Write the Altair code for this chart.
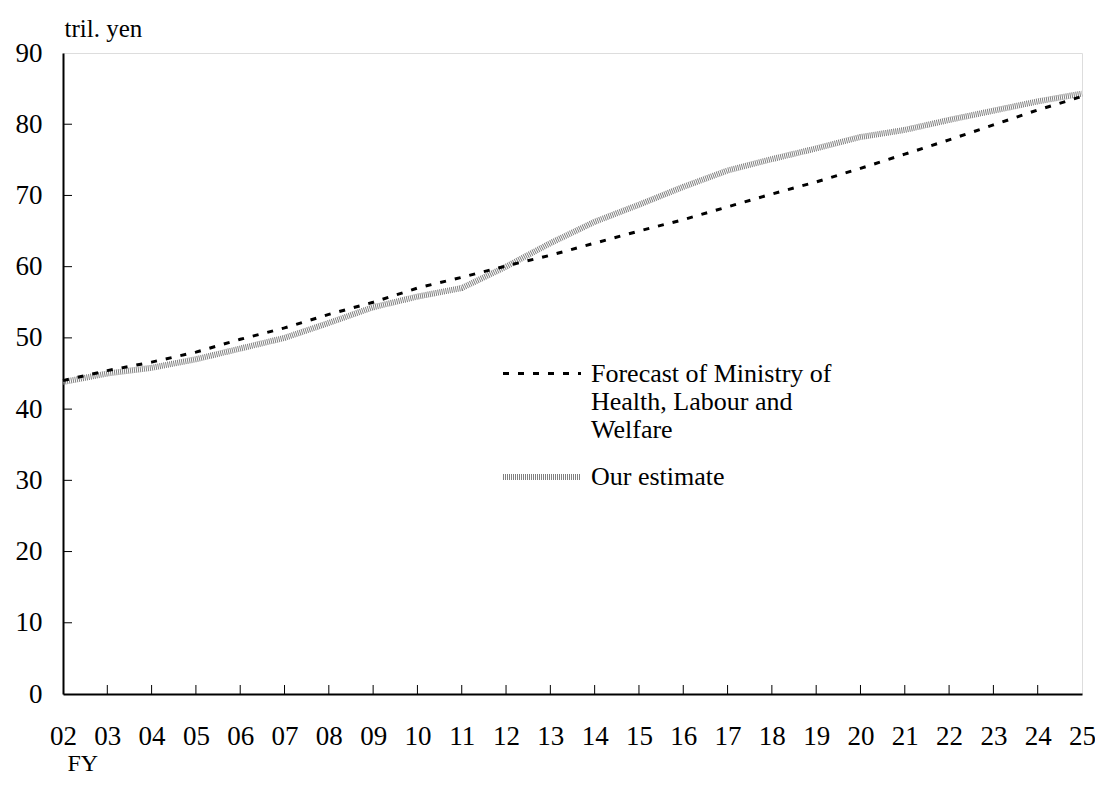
import altair as alt
import pandas as pd

# ---- data ----
fiscal_years = list(range(2, 26))  # FY 02 .. 25
forecast_mhlw = [44.0, 45.4, 46.6, 48.0, 49.8, 51.4, 53.3, 55.0, 57.0, 58.5, 60.1, 61.6,
                 63.3, 65.0, 66.6, 68.4, 70.2, 71.9, 73.8, 75.8, 77.8, 79.9, 82.0, 83.9]
our_estimate = [43.8, 45.0, 45.8, 47.0, 48.5, 50.0, 52.1, 54.3, 55.8, 57.0, 60.0, 63.3,
                66.3, 68.7, 71.2, 73.5, 75.1, 76.6, 78.2, 79.2, 80.6, 81.9, 83.2, 84.3]
series_names = ["Forecast of Ministry of|Health, Labour and|Welfare", "Our estimate"]
y_ticks = [0, 10, 20, 30, 40, 50, 60, 70, 80, 90]

FONT = "Liberation Serif"

rows = []
for fy, v in zip(fiscal_years, forecast_mhlw):
    rows.append({"FY": fy, "value": v, "series": series_names[0]})
for fy, v in zip(fiscal_years, our_estimate):
    rows.append({"FY": fy, "value": v, "series": series_names[1]})
df = pd.DataFrame(rows)

xtick_df = pd.DataFrame({"FY": fiscal_years[1:-1]})
ytick_df = pd.DataFrame({"value": y_ticks[1:-1]})

W, H = 1019, 641

x_scale = alt.Scale(domain=[2, 25], nice=False, zero=False)
y_scale = alt.Scale(domain=[0, 90], nice=False)

legend = alt.Legend(
    title=None, orient="none", legendX=445, legendY=288,
    symbolType="M-1.258,0H1.258", symbolSize=3844,
    labelFont=FONT, labelFontSize=26, labelColor="black",
    labelExpr="split(datum.label, '|')", labelLimit=0, labelOffset=15,
    rowPadding=0, padding=0,
)

color = alt.Color("series:N", scale=alt.Scale(domain=series_names, range=["black", "#808080"]), legend=legend)
dash = alt.StrokeDash("series:N", scale=alt.Scale(domain=series_names, range=[[6, 9], [1, 1]]), legend=legend)
swidth = alt.StrokeWidth("series:N", scale=alt.Scale(domain=series_names, range=[3, 6]), legend=legend)

x_enc = alt.X(
    "FY:Q", scale=x_scale,
    axis=alt.Axis(
        values=fiscal_years, format="02d", title="FY",
        labelFont=FONT, labelFontSize=27, labelColor="black", labelPadding=29,
        labelFlush=False, labelOverlap=False,
        ticks=False, tickSize=0, grid=False,
        domainColor="black", domainWidth=2,
        titleFont=FONT, titleFontSize=24, titleFontWeight="normal", titleColor="black",
        titleAnchor="start", titleAlign="left", titleBaseline="alphabetic",
        titleX=4, titleY=76,
    ),
)
y_enc = alt.Y(
    "value:Q", scale=y_scale,
    axis=alt.Axis(
        values=y_ticks, title="tril. yen",
        labelFont=FONT, labelFontSize=27, labelColor="black", labelPadding=21,
        labelFlush=False, labelOverlap=False,
        ticks=False, tickSize=0, grid=False,
        domainColor="black", domainWidth=2,
        titleFont=FONT, titleFontSize=25, titleFontWeight="normal", titleColor="black",
        titleAngle=0, titleAlign="left", titleBaseline="alphabetic",
        titleX=1, titleY=-17,
    ),
)

base = alt.Chart(df).encode(x=x_enc, y=y_enc, color=color, strokeDash=dash, strokeWidth=swidth)

ours_line = base.transform_filter(alt.datum.series == series_names[1]).mark_line()
mhlw_line = base.transform_filter(alt.datum.series == series_names[0]).mark_line()

xticks = alt.Chart(xtick_df).mark_rule(color="black", strokeWidth=1).encode(
    x=alt.X("FY:Q", scale=x_scale), y=alt.value(H - 9), y2=alt.value(H)
)
yticks = alt.Chart(ytick_df).mark_rule(color="black", strokeWidth=1).encode(
    y=alt.Y("value:Q", scale=y_scale), x=alt.value(0), x2=alt.value(9)
)

chart = alt.layer(xticks, yticks, ours_line, mhlw_line).properties(
    width=W, height=H,
    autosize=alt.AutoSizeParams(type="none"),
    padding={"left": 55, "top": 45, "right": 1087 - 55 - W, "bottom": 769 - 45 - H},
).configure_view(
    stroke="#808080", strokeWidth=2
).configure(background="white")

chart.save("out.html", embed_options={"renderer": "svg", "actions": False})
